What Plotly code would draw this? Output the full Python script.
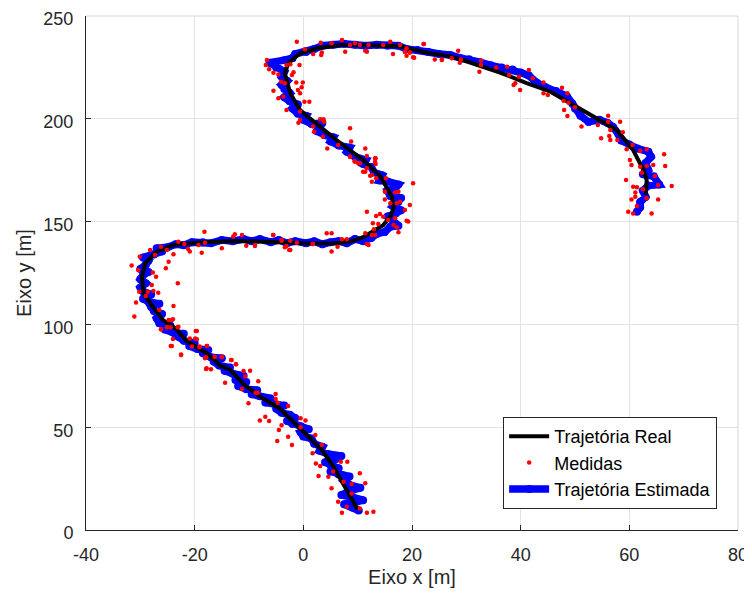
import plotly.graph_objects as go

# Real trajectory (black)
real_x = [10.0, 8.7, 7.3, 5.5, 3.4, 1.5, 0.0, -2.2, -4.3, -8.0, -11.0, -13.5, -15.3, -17.8, -21.5, -23.5,
          -25.8, -27.7, -29.4, -29.7, -29.1, -27.0, -23.9, -19.6, -12.9, -6.5, 0.0, 5.5, 9.0, 11.0, 14.7,
          16.0, 16.6, 16.3, 15.0, 14.2, 11.0, 6.1, 1.2, -0.6, -2.4, -3.4, -2.8, -0.6, 2.5, 6.8, 11.7, 17.8,
          23.0, 27.0, 30.0, 36.2, 41.1, 45.4, 49.7, 54.6, 57.7, 60.7, 62.6, 63.2, 63.0]
real_y = [10.0, 16.0, 23.0, 31.0, 39.0, 44.0, 48.0, 54.0, 59.0, 65.0, 71.0, 78.0, 80.0, 86.0, 92.0, 98.0,
          102.0, 108.6, 115.0, 123.0, 129.7, 135.4, 138.6, 139.7, 140.6, 140.2, 139.5, 139.4, 140.5, 142.4, 148.3,
          152.4, 156.5, 162.0, 168.0, 172.0, 180.0, 189.7, 200.2, 204.3, 212.4, 222.0, 227.0, 231.9, 234.3, 235.9, 235.9, 235.2,
          232.0, 230.5, 228.0, 222.5, 217.4, 213.3, 206.7, 199.4, 194.6, 184.8, 175.1, 170.0, 163.0]

# Measurements (red dots)
meas_x = [12.9, 11.7, 10.4, 7.1, 8.0, 6.4, 11.4, 10.4, 8.9, 8.9, 5.2, 7.4, 5.5, 4.6, 2.8, 2.3, 3.1, 8.1, 6.9,
          2.2, 3.4, 1.7, 0.4, -0.5, -0.5, -2.1, -2.8, -2.8, -4.8, -4.5, -4.0, -5.1, -5.1, -4.7, -6.3, -8.0, -7.0,
          -8.4, -10.1, -8.8, -8.3, -9.8, -11.0, -11.3, -10.7, -13.2, -12.4, -14.4, -17.0, -17.9, -18.1, -16.3,
          -15.0, -17.7, -19.1, -20.5, -19.6, -19.6, -22.5, -24.2, -24.0, -23.0, -25.1, -26.2, -24.2,
          -18.2, -12.6, -12.9, -11.3, -5.5, -4.0, -3.1, -2.4, -10.5, -8.9, -15.0, -18.7, -18.1, -19.3, -21.2,
          -20.9, -23.0, -21.9, -23.9, -25.1, -26.2, -28.2, -27.3, -30.1, -31.6, -30.4, -27.7, -25.3, -24.8,
          -27.1, -23.1, -27.9, -30.2, -28.6, -27.6, -26.7, -30.8, -29.0, -23.9, -31.1, -26.5, -24.8, -24.0,
          -26.2, -25.1, -24.4, -23.1, -24.4, -22.5, -19.8, -19.9, -20.9, -19.1, -17.8, -17.9, -16.3, -15.0,
          -13.3, -12.4, -17.8, -1.2, 1.8,
          -8.9, -5.6, -4.0, -3.4, -2.6, -2.4, 1.7, 4.3, 5.2, 5.2, 6.3, 7.1, 8.0, 11.4, 11.7, 12.0, 12.6, 13.2,
          13.0, 12.8, 13.8, 14.1, 13.4, 11.7, 14.7, 15.6, 16.6, 17.2, 17.5, 19.0, 19.3, 16.9, 19.6, 18.7, 17.8,
          17.2, 16.0, 15.0, 15.0, 16.9, 17.5, 20.2, 13.4, 12.6, 12.6, 11.4, 13.2, 13.3, 11.7, 11.7, 10.4, 9.5, 8.6,
          -1.2, 7.1, 3.2, 5.2, 8.6, 9.5, 10.4, 12.0, 14.7, 16.0, 17.8, 22.1, 19.0, 0.3, 1.8, 3.4, 3.3, 7.7, 11.4,
          11.7, 16.5, 18.7, 19.6, 20.2, 25.5, -6.7, -6.9, -6.3, -5.5, -4.6, -3.1, -2.4, -0.7, -2.1, -1.8, -4.1,
          -3.4, -1.3, -0.1, -5.5, -1.0, -0.6, -0.3, -4.6, -3.7, 1.1, 0.2, -3.1, -0.6, -0.9, -0.6, 1.8, 2.0, 3.6,
          3.1, 3.7, 3.8, 8.6, 8.8, 4.4, 6.4, 11.4, 8.6, 9.4, 10.1, 13.3, 13.2, 11.0, 12.3, 15.2,
          22.2, 18.7, 19.0, 20.4, 19.6, 24.2, 25.5, 27.3, 28.5, 29.0, 28.8, 32.7, 32.7, 32.4, 35.5, 37.5, 37.9,
          38.7, 39.0, 39.9, 39.7, 41.5, 42.2, 44.2, 44.2, 45.0, 47.6, 48.6, 47.9, 48.8, 48.0, 48.6, 50.0, 51.2,
          54.2, 54.8, 56.1, 56.1, 56.5, 56.3, 56.5, 58.3, 58.8, 57.8, 59.5, 60.6, 62.0, 63.2, 66.4, 66.6, 60.1,
          60.4, 62.0, 63.2, 64.4, 62.3, 64.7, 59.4, 60.7, 61.4, 62.5, 65.3, 67.8, 61.1, 61.1, 63.2, 65.3, 60.4,
          61.4, 59.8, 60.7, 64.1]
meas_y = [8.9, 8.4, 10.5, 8.4, 11.3, 13.8, 22.7, 27.6, 22.4, 17.8, 20.3, 23.5, 28.4, 25.9, 26.3, 32.4, 31.1, 33.2, 33.2,
          46.2, 41.3, 37.3, 53.2, 50.0, 54.3, 41.3, 45.4, 60.3, 43.3, 48.6, 50.9, 66.1, 63.7, 61.9, 53.0, 53.2, 55.1,
          66.8, 61.6, 66.8, 72.3, 77.5, 77.3, 68.6, 74.6, 82.7, 80.6, 71.6, 78.2, 78.3, 83.5, 84.3,
          84.3, 89.5, 88.9, 89.2, 92.8, 96.8, 85.4, 89.5, 92.9, 98.9, 98.6, 97.6, 102.1,
          145.1, 143.8, 142.7, 143.5, 143.5, 140.7, 138.1, 136.2, 138.3, 138.6, 137.0, 134.9, 139.7, 138.6, 136.7,
          135.4, 140.2, 139.1, 134.1, 136.2, 137.8, 136.2, 133.8, 132.9, 128.6, 126.5, 125.3, 127.3, 130.5,
          123.2, 120.0, 119.2, 115.9, 115.9, 116.2, 115.4, 110.6, 113.8, 108.9, 103.8, 107.0, 102.1, 102.5,
          97.6, 98.6, 98.6, 98.6, 89.5, 85.1, 96.8, 93.2, 93.2, 89.2, 89.5, 84.0, 84.3, 84.0,
          82.7, 80.6, 78.7, 139.7, 139.1,
          138.1, 143.5, 141.0, 137.5, 136.2, 140.7, 139.1, 144.3, 144.3, 135.4, 137.8, 141.4, 141.4, 144.3, 139.1, 138.6, 143.5, 143.5,
          146.3, 149.2, 148.8, 153.7, 152.7, 154.8, 152.4, 150.8, 148.3, 147.2, 144.8, 150.4, 150.0, 151.6, 158.1, 155.6, 159.7,
          158.9, 158.9, 160.8, 164.5, 164.1, 164.5, 168.6, 171.1, 169.4, 172.7, 174.3, 180.8, 178.0, 175.9, 181.9, 178.4, 179.1, 181.6,
          237.5, 238.3, 237.0, 236.7, 235.9, 236.7, 235.9, 235.9, 235.9, 237.5, 235.9, 236.4, 234.3, 233.8, 231.5, 232.2, 231.0, 232.6, 233.1,
          232.6, 231.5, 232.6, 232.2, 229.9, 228.9, 228.6, 226.2, 224.1, 222.4, 221.6, 226.2, 226.5, 226.2, 221.3, 222.6, 218.0,
          217.3, 217.7, 217.6, 213.7, 214.0, 212.4, 215.3, 210.0, 210.8, 208.3, 208.3, 204.3, 203.5, 198.1, 199.4, 196.2, 193.7, 191.3,
          199.8, 199.8, 198.6, 195.4, 188.9, 185.6, 187.3, 185.6, 181.6, 179.5, 178.4, 180.8, 179.1, 174.3, 172.3, 171.1,
          236.4, 232.6, 230.7, 229.7, 232.2, 228.9, 228.6, 229.4, 233.1, 228.9, 227.3, 228.3, 226.2, 222.9, 225.0, 225.3, 221.3,
          216.4, 217.3, 214.0, 220.5, 223.7, 219.7, 217.7, 212.4, 211.6, 215.1, 212.4, 208.8, 207.8, 204.3, 201.4, 205.6, 196.2,
          197.0, 190.5, 201.5, 198.6, 194.6, 191.6, 189.7, 198.6, 193.4, 189.7, 185.2, 187.3, 184.5, 185.2, 182.7, 177.0, 180.0,
          177.5, 176.7, 177.0, 177.5, 173.8, 172.2, 170.2, 167.0, 166.7, 165.7, 167.8, 167.3, 164.1, 162.1, 161.3, 160.8, 160.8,
          157.6, 154.8, 154.0, 154.0]

# Estimated trajectory (blue)
est_x = [10.2, 9.0, 7.5, 9.5, 11.0, 9.0, 7.0, 8.5, 10.5, 8.5, 7.5, 8.5, 6.5, 5.0, 6.5, 5.0, 4.0, 6.0, 7.0, 4.5,
         3.0, 3.5, 2.0, 1.5, 0.0, -0.5, 1.0, -0.5, -2.0, -3.0, -1.5, -2.5, -4.0, -5.0, -3.5, -5.5, -7.0, -6.0,
         -8.0, -9.5, -8.5, -10.5, -12.0, -10.5, -12.5, -11.0, -13.0, -14.5, -13.5, -15.5, -16.5, -15.0, -17.0,
         -18.5, -17.5, -19.5, -21.0, -20.0, -22.0, -23.0, -22.0, -24.0, -25.5, -24.5, -26.5, -27.0, -26.0,
         -27.5, -28.0, -26.5, -28.5, -29.5, -28.0, -29.5, -30.0, -29.0, -30.0, -29.5, -28.5, -30.0, -29.0,
         -28.5, -29.5, -27.5, -26.0, -27.0, -25.0, -23.5, -22.0, -20.5, -18.5, -17.0, -15.0, -13.0, -11.0,
         -9.5, -8.0, -6.0, -4.5, -3.0, -1.5, 0.5, 2.0, 3.5, 5.0, 6.5, 8.0, 9.5, 11.0, 12.5, 13.5, 15.0, 16.0,
         17.5, 16.5, 15.5, 17.0, 18.0, 16.5, 17.5, 18.0, 16.0, 15.5, 17.0, 17.5, 15.5, 14.0, 14.5, 13.0, 12.5,
         11.0, 11.5, 9.5, 8.0, 8.5, 6.5, 5.0, 5.5, 4.0, 2.5, 3.5, 1.5, 0.0, 0.5, -1.0, -2.0, -1.0, -2.5, -3.5,
         -2.5, -3.5, -4.0, -3.0, -4.0, -3.5, -5.0, -6.2, -3.5, -2.0, -1.5, 0.5, 2.0, 3.5, 5.5, 7.5, 9.5, 11.5,
         13.5, 15.5, 17.5, 19.0, 21.0, 23.0, 25.0, 27.0, 29.0, 30.5, 32.5, 34.5, 36.5, 38.5, 40.0, 41.5, 43.0,
         44.5, 46.5, 48.5, 49.5, 50.0, 51.0, 52.5, 54.5, 56.0, 57.0, 58.0, 58.5, 60.0, 61.5, 63.5, 64.0, 63.0,
         63.5, 62.5, 64.5, 65.5, 63.5, 62.5, 63.0, 62.0, 62.0, 61.4]
est_y = [9.5, 11.0, 12.5, 13.5, 14.5, 16.0, 17.0, 19.0, 20.5, 22.0, 24.0, 26.0, 27.0, 28.5, 30.0, 31.5, 33.0, 34.5,
         36.0, 37.0, 38.5, 40.5, 42.0, 44.5, 45.5, 47.5, 49.0, 50.5, 51.5, 53.0, 54.5, 56.0, 57.0, 59.0, 60.5,
         61.5, 62.0, 64.0, 65.0, 66.0, 68.0, 68.5, 70.0, 72.0, 73.0, 75.0, 76.0, 77.5, 79.0, 80.0, 82.0, 83.5,
         84.0, 86.0, 87.5, 88.0, 89.5, 91.0, 92.0, 94.0, 95.5, 96.0, 97.5, 99.5, 100.5, 103.0, 105.0, 106.5,
         108.5, 110.0, 111.0, 112.5, 114.5, 116.0, 118.0, 120.0, 122.0, 124.0, 125.5, 127.0, 129.0, 131.0,
         132.5, 134.0, 135.5, 137.0, 137.5, 139.0, 138.5, 140.0, 140.0, 139.5, 141.0, 140.5, 141.5, 140.5,
         141.5, 140.0, 141.0, 139.5, 140.5, 139.5, 140.5, 139.0, 140.0, 140.5, 139.5, 141.5, 140.5, 142.0,
         144.0, 145.0, 147.5, 148.0, 150.5, 152.5, 154.0, 155.5, 157.5, 159.5, 161.5, 162.5, 165.0, 166.5,
         168.0, 169.5, 170.0, 172.5, 174.0, 176.5, 178.0, 180.0, 181.5, 184.0, 186.0, 187.0, 189.0, 191.0,
         192.0, 194.0, 198.0, 197.5, 199.5, 201.5, 202.5, 205.0, 207.0, 208.5, 210.5, 212.5, 214.5, 216.5,
         218.5, 220.5, 223.0, 225.0, 227.3, 228.5, 229.5, 231.5, 232.5, 234.0, 235.5, 236.0, 236.5, 236.0,
         235.5, 236.0, 235.5, 235.5, 234.0, 233.5, 232.5, 231.5, 231.0, 229.5, 229.0, 227.5, 226.0, 225.0,
         224.0, 222.5, 221.0, 217.5, 215.5, 213.5, 211.0, 207.5, 205.0, 201.5, 198.5, 199.5, 198.0, 196.0,
         192.5, 189.5, 187.5, 185.5, 184.0, 181.5, 178.5, 175.0, 173.0, 172.0, 168.0, 167.5, 165.0, 162.0,
         159.5, 157.0, 154.8]

x_ticks = [-40, -20, 0, 20, 40, 60, 80]
y_ticks = [0, 50, 100, 150, 200, 250]

FONT = "Liberation Sans, Arial, Helvetica, sans-serif"
AX = "#262626"
GRID = "#e3e3e3"

fig = go.Figure()
fig.add_trace(go.Scatter(x=est_x, y=est_y, mode="lines+markers", name="Trajetória Estimada",
                         line=dict(color="#0000ff", width=7.5),
                         marker=dict(color="#0000ff", size=8, line=dict(width=0)), legendrank=3))
fig.add_trace(go.Scatter(x=real_x, y=real_y, mode="lines", name="Trajetória Real",
                         line=dict(color="black", width=4), legendrank=1))
fig.add_trace(go.Scatter(x=meas_x, y=meas_y, mode="markers", name="Medidas",
                         marker=dict(color="#ff0000", size=4.5), legendrank=2))

# The page body adds an 8px offset at top/left, so the figure is 8px smaller
# and the left/top margins are reduced by 8px.
fig.update_layout(
    width=744, height=588,
    margin=dict(l=78, r=14, t=8, b=66),
    paper_bgcolor="white", plot_bgcolor="white",
    font=dict(family=FONT, size=18, color=AX),
    showlegend=True,
    legend=dict(x=0.968, y=0.041, xanchor="right", yanchor="bottom",
                bgcolor="white", bordercolor=AX, borderwidth=1,
                font=dict(family=FONT, size=18, color="black"),
                tracegroupgap=0, itemwidth=40),
    xaxis=dict(range=[-40, 80], tickvals=x_ticks, ticktext=[str(v) for v in x_ticks],
               showgrid=True, gridcolor=GRID, gridwidth=1, zeroline=False, automargin=False,
               showline=True, linecolor=AX, linewidth=1, ticks="inside", ticklen=5,
               tickcolor=AX, ticklabelstandoff=8, ticklabeloverflow="allow",
               title=dict(text="Eixo x [m]", font=dict(size=20, color=AX), standoff=6)),
    yaxis=dict(range=[0, 250], tickvals=y_ticks, ticktext=[str(v) for v in y_ticks],
               showgrid=True, gridcolor=GRID, gridwidth=1, zeroline=False, automargin=False,
               showline=True, linecolor=AX, linewidth=1, ticks="inside", ticklen=5,
               tickcolor=AX, ticklabelstandoff=8, ticklabeloverflow="allow", ticklabelshift=3,
               title=dict(text="Eixo y [m]", font=dict(size=20, color=AX), standoff=6)),
)
fig.add_shape(type="line", xref="paper", yref="paper", x0=0, x1=1, y0=1, y1=1,
              line=dict(color=GRID, width=1.5), layer="below")
fig.add_shape(type="line", xref="paper", yref="paper", x0=1, x1=1, y0=0, y1=1,
              line=dict(color=GRID, width=1.5), layer="below")

fig.write_html("out.html")
